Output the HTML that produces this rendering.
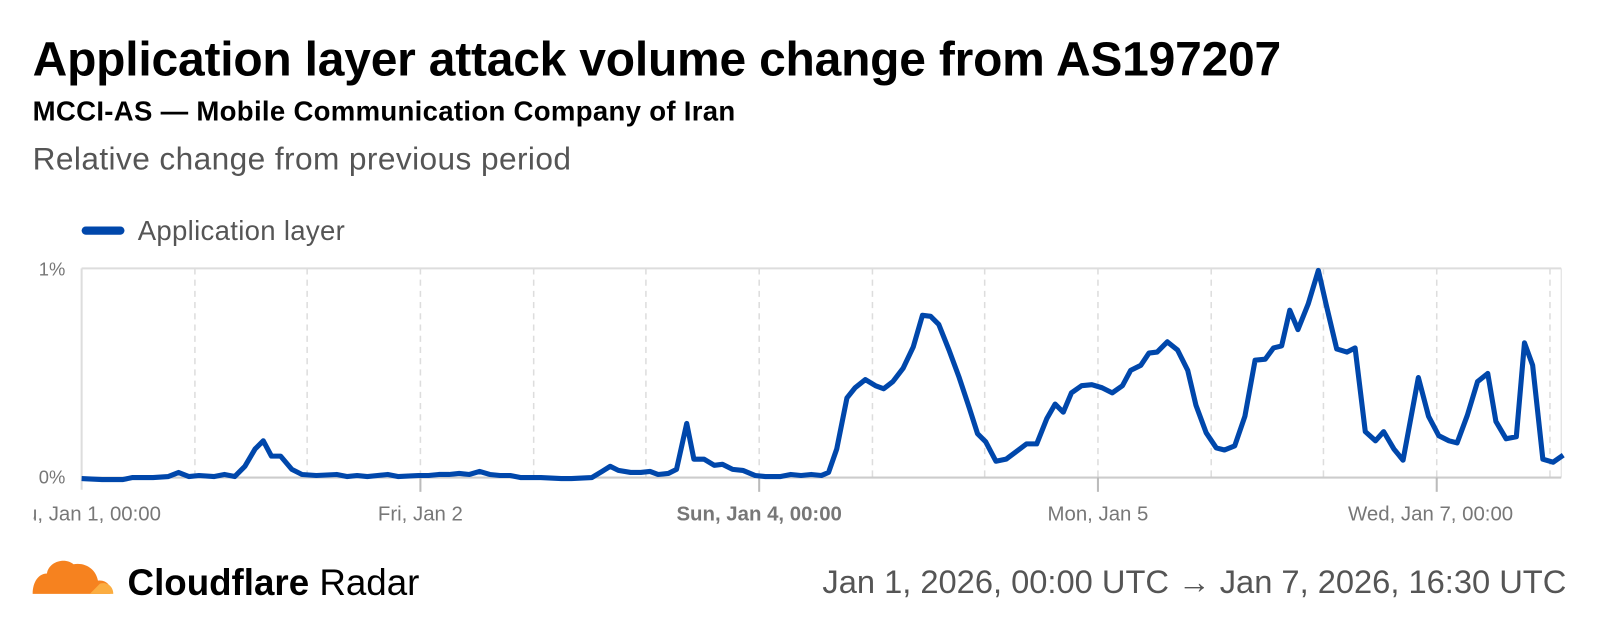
<!DOCTYPE html>
<html><head><meta charset="utf-8"><style>
body{margin:0;width:1600px;height:632px;background:#fff;font-family:"Liberation Sans",sans-serif;overflow:hidden}
#w{position:relative;width:1568px;height:620px;transform:scale(1.0204);transform-origin:0 0}
.t{position:absolute;left:32px;white-space:nowrap}
</style></head><body><div id="w">
<div class="t" style="top:30px;font-size:47px;font-weight:bold;color:#000;letter-spacing:-0.2px">Application layer attack volume change from AS197207</div>
<div class="t" style="top:94px;font-size:27px;font-weight:bold;color:#000;letter-spacing:0.3px">MCCI-AS — Mobile Communication Company of Iran</div>
<div class="t" style="top:138px;font-size:31px;color:#555;letter-spacing:0.4px">Relative change from previous period</div>
<svg width="1568" height="620" style="position:absolute;left:0;top:0" font-family="Liberation Sans, sans-serif">
<line x1="84" y1="226" x2="118" y2="226" stroke="#0047ab" stroke-width="8" stroke-linecap="round"/>
<text x="135" y="235" font-size="27" fill="#555" letter-spacing="0.3">Application layer</text>
<text x="64" y="270" font-size="18" fill="#777" text-anchor="end">1%</text>
<text x="64" y="474" font-size="18" fill="#777" text-anchor="end">0%</text>
<line x1="80" y1="263" x2="1530" y2="263" stroke="#ddd" stroke-width="2"/>
<line x1="80" y1="263" x2="80" y2="480" stroke="#ddd" stroke-width="2"/>
<line x1="1530" y1="263" x2="1530" y2="468" stroke="#ddd" stroke-width="1"/>
<g stroke="#ddd" stroke-width="1.5" stroke-dasharray="6,5">
<line x1="191" y1="263" x2="191" y2="468"/><line x1="301" y1="263" x2="301" y2="468"/><line x1="412" y1="263" x2="412" y2="468"/><line x1="523" y1="263" x2="523" y2="468"/><line x1="633" y1="263" x2="633" y2="468"/><line x1="744" y1="263" x2="744" y2="468"/><line x1="855" y1="263" x2="855" y2="468"/><line x1="965" y1="263" x2="965" y2="468"/><line x1="1076" y1="263" x2="1076" y2="468"/><line x1="1187" y1="263" x2="1187" y2="468"/><line x1="1297" y1="263" x2="1297" y2="468"/><line x1="1408" y1="263" x2="1408" y2="468"/><line x1="1519" y1="263" x2="1519" y2="468"/>
</g>
<line x1="80" y1="468" x2="1530" y2="468" stroke="#ccc" stroke-width="2"/>
<g stroke="#bbb" stroke-width="2"><line x1="412" y1="468" x2="412" y2="482"/><line x1="744" y1="468" x2="744" y2="482"/><line x1="1076" y1="468" x2="1076" y2="482"/><line x1="1408" y1="468" x2="1408" y2="482"/></g>
<g font-size="20" fill="#777" text-anchor="middle">
<text x="80" y="510">Thu, Jan 1, 00:00</text>
<text x="412" y="510">Fri, Jan 2</text>
<text x="744" y="510" font-weight="bold">Sun, Jan 4, 00:00</text>
<text x="1076" y="510">Mon, Jan 5</text>
<text x="1402" y="510">Wed, Jan 7, 00:00</text>
</g>
<rect x="0" y="485" width="33" height="30" fill="#fff"/>
<polyline fill="none" stroke="#0047ab" stroke-width="5" stroke-linejoin="round" points="80,469 100,470 120,470 130,468 150,468 165,467 175,463 185,467 195,466 210,467 220,465 230,467 240,457 250,440 258,432 266,447 275,447 286,460 296,465 310,466 330,465 340,467 350,466 360,467 370,466 380,465 390,467 410,466 420,466 430,465 440,465 450,464 460,465 470,462 480,465 490,466 500,466 510,468 530,468 550,469 560,469 580,468 590,462 598,457 606,461 618,463 628,463 637,462 645,465 655,464 663,460 673,415 680,450 690,450 700,456 708,455 718,460 728,461 740,466 750,467 765,467 775,465 785,466 795,465 805,466 812,463 820,440 830,390 838,380 848,372 858,378 866,381 875,374 885,361 895,340 904,309 912,310 920,318 930,343 940,370 950,400 958,425 966,433 976,452 986,450 1006,435 1016,435 1026,410 1034,396 1042,404 1050,385 1060,378 1070,377 1080,380 1090,385 1100,378 1108,363 1118,358 1126,346 1134,345 1144,335 1154,343 1164,363 1172,397 1182,424 1192,439 1200,441 1210,437 1220,408 1230,353 1240,352 1248,341 1256,339 1264,304 1272,323 1282,298 1292,265 1300,300 1310,342 1320,345 1328,341 1338,423 1348,432 1356,423 1366,440 1375,451 1390,370 1400,408 1410,427 1420,432 1428,434 1438,407 1448,374 1458,366 1466,413 1476,430 1486,428 1494,336 1502,358 1512,450 1522,453 1532,446"/>
<g>
<path d="M32,582 L108,582 C110,574 104,568 96,569 C94,558 84,551 72,553 C64,546 48,550 46,562 C38,562 32,570 32,582Z" fill="#f6821f"/>
<path d="M88,582 L111,582 C111,574 104,570 98,572 Z" fill="#fbad41"/>
</g>
<text x="125" y="583" font-size="36" font-weight="bold" fill="#000">Cloudflare <tspan font-weight="normal">Radar</tspan></text>
<text x="1535" y="581" font-size="32" fill="#555" text-anchor="end">Jan 1, 2026, 00:00 UTC → Jan 7, 2026, 16:30 UTC</text>
</svg>
</div></body></html>
